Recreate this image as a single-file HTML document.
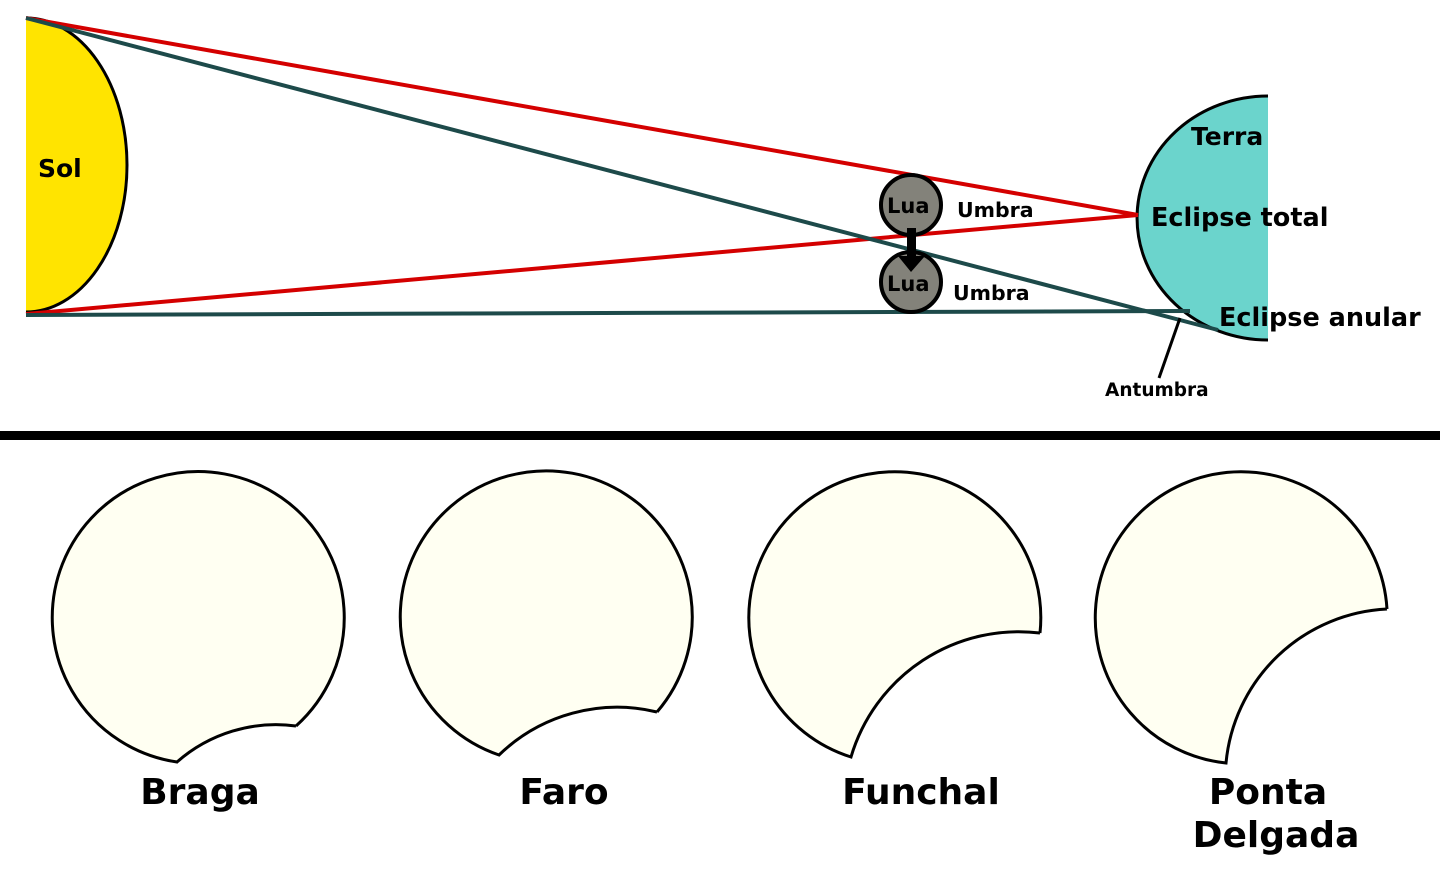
<!DOCTYPE html>
<html><head><meta charset="utf-8"><style>
html,body{margin:0;padding:0;background:#fff;width:1440px;height:870px;overflow:hidden}
svg text{font-family:"DejaVu Sans","Liberation Sans",sans-serif;font-weight:bold;fill:#000}
</style></head><body>
<svg width="1440" height="870" viewBox="0 0 1440 870" xmlns="http://www.w3.org/2000/svg">
<path d="M26 18 A101 147 0 0 1 26 312 Z" fill="#ffe400"/>
<path d="M26 18 A101 147 0 0 1 26 312" fill="none" stroke="#000" stroke-width="3"/>
<path d="M1268 96 A131 122 0 0 0 1268 340 Z" fill="#6bd4cc"/>
<path d="M1268 96 A131 122 0 0 0 1268 340" fill="none" stroke="#000" stroke-width="3"/>
<line x1="26" y1="18" x2="1138" y2="215" stroke="#d40000" stroke-width="4"/>
<line x1="26" y1="314" x2="1138" y2="215" stroke="#d40000" stroke-width="4"/>
<line x1="26" y1="18" x2="1218" y2="330" stroke="#1d4a4a" stroke-width="4"/>
<line x1="26" y1="315" x2="1190" y2="311" stroke="#1d4a4a" stroke-width="4"/>
<circle cx="911" cy="205" r="30" fill="#83827a" stroke="#000" stroke-width="4"/>
<circle cx="911" cy="282" r="30" fill="#83827a" stroke="#000" stroke-width="4"/>
<rect x="907" y="228" width="9" height="30" fill="#000"/>
<polygon points="898,256 925,256 911,272" fill="#000"/>
<text x="887" y="213" font-size="21">Lua</text>
<text x="887" y="291" font-size="21">Lua</text>
<text x="957" y="217" font-size="20.5">Umbra</text>
<text x="953" y="300" font-size="20.5">Umbra</text>
<line x1="1180" y1="318" x2="1159" y2="378" stroke="#000" stroke-width="3"/>
<text x="1105" y="396" font-size="18.5">Antumbra</text>
<text x="38" y="177" font-size="25">Sol</text>
<text x="1191" y="145" font-size="25">Terra</text>
<text x="1151" y="226" font-size="25.5">Eclipse total</text>
<text x="1219" y="326" font-size="25.5">Eclipse anular</text>
<rect x="0" y="431" width="1440" height="9" fill="#000"/>
<g fill="#fffff2" stroke="#000" stroke-width="3">
<path d="M296 726 A146 146 0 1 0 177 762 A150 150 0 0 1 296 726"/>
<path d="M657 712 A146 146 0 1 0 499 755 A170 170 0 0 1 657 712"/>
<path d="M1040 633 A146 146 0 1 0 851 757 A175 175 0 0 1 1040 633"/>
<path d="M1387 609 A146 146 0 1 0 1226 763 A170 170 0 0 1 1387 609"/>
</g>
<g font-size="36">
<text x="200" y="804" text-anchor="middle">Braga</text>
<text x="564" y="804" text-anchor="middle">Faro</text>
<text x="921" y="804" text-anchor="middle">Funchal</text>
<text x="1268" y="804" text-anchor="middle">Ponta</text>
<text x="1276" y="847" text-anchor="middle">Delgada</text>
</g>
</svg>
</body></html>
